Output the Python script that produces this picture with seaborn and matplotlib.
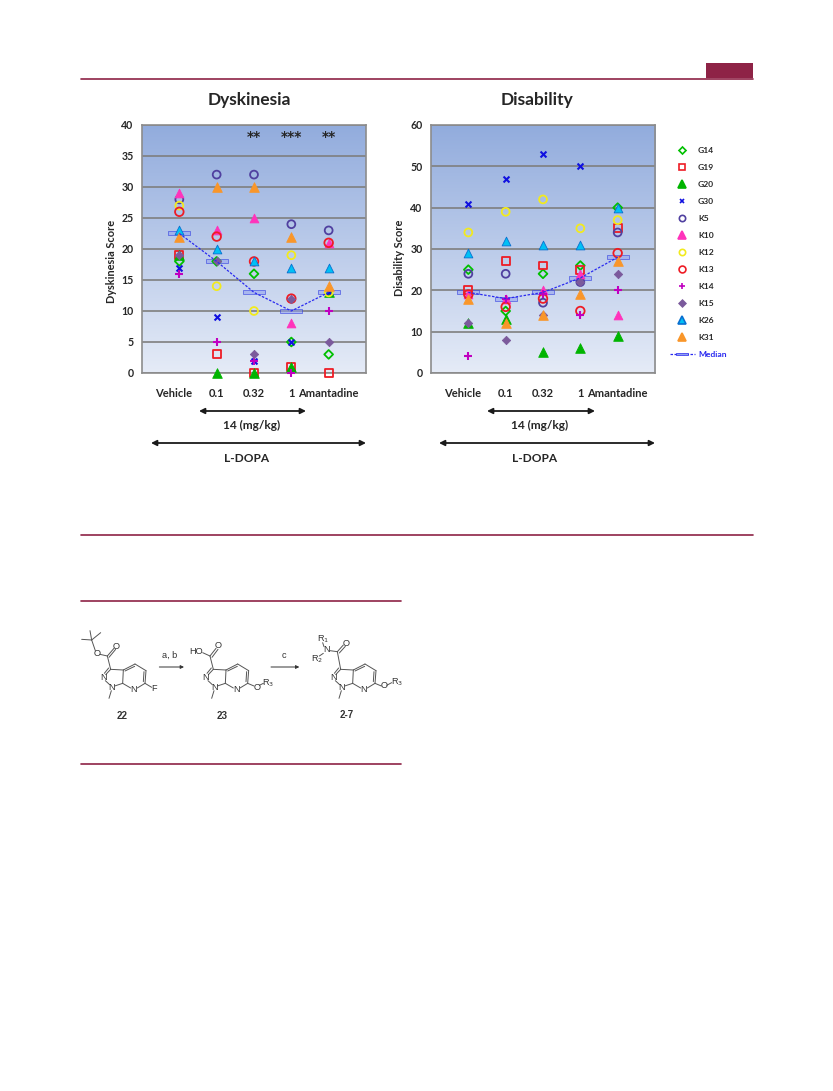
import numpy as np
import pandas as pd
import matplotlib
matplotlib.use('Agg')
import matplotlib.pyplot as plt
from matplotlib.colors import LinearSegmentedColormap
from matplotlib.lines import Line2D
from matplotlib.path import Path
from matplotlib.transforms import ScaledTranslation
import seaborn as sns

# Doses and subjects
doses = ['Vehicle', '0.1', '0.32', '1', 'Amantadine']
subjects = ['G14', 'G19', 'G20', 'G30', 'K5', 'K10', 'K12', 'K13', 'K14', 'K15', 'K26', 'K31']

# Dyskinesia scores, one list per subject (Vehicle .. Amantadine)
dys_g14 = [18, 18, 16, 5, 3]
dys_g19 = [19, 3, 0, 1, 0]
dys_g20 = [19, 0, 0, 1, 13]
dys_g30 = [17, 9, 2, 5, 13]
dys_k5 = [28, 32, 32, 24, 23]
dys_k10 = [29, 23, 25, 8, 21]
dys_k12 = [27, 14, 10, 19, 13]
dys_k13 = [26, 22, 18, 12, 21]
dys_k14 = [16, 5, 2, 0, 10]
dys_k15 = [19, 18, 3, 12, 5]
dys_k26 = [23, 20, 18, 17, 17]
dys_k31 = [22, 30, 30, 22, 14]
dys_median = [22.5, 18, 13, 10, 13]

# Disability scores
dis_g14 = [25, 15, 24, 26, 40]
dis_g19 = [20, 27, 26, 25, 35]
dis_g20 = [12, 13, 5, 6, 9]
dis_g30 = [41, 47, 53, 50, None]
dis_k5 = [24, 24, 17, 22, 34]
dis_k10 = [19, 18, 20, 24, 14]
dis_k12 = [34, 39, 42, 35, 37]
dis_k13 = [19, 16, 18, 15, 29]
dis_k14 = [4, 18, 19, 14, 20]
dis_k15 = [12, 8, 14, 22, 24]
dis_k26 = [29, 32, 31, 31, 40]
dis_k31 = [18, 12, 14, 19, 27]
dis_median = [19.5, 18, 19.5, 23, 28]

dys_scores = [dys_g14, dys_g19, dys_g20, dys_g30, dys_k5, dys_k10,
              dys_k12, dys_k13, dys_k14, dys_k15, dys_k26, dys_k31]
dis_scores = [dis_g14, dis_g19, dis_g20, dis_g30, dis_k5, dis_k10,
              dis_k12, dis_k13, dis_k14, dis_k15, dis_k26, dis_k31]

# marker, colour, edge colour, filled, size
styles = {
    'G14': ('D', '#00c000', '#00c000', False, 20),
    'G19': ('s', '#ee1c25', '#ee1c25', False, 32),
    'G20': ('^', '#00b400', '#00b400', True, 48),
    'G30': ('x', '#1010e0', '#1010e0', None, 18),
    'K5': ('o', '#5040a0', '#5040a0', False, 32),
    'K10': ('^', '#ff33bb', '#ff33bb', True, 40),
    'K12': ('o', '#f2ea1e', '#f2ea1e', False, 32),
    'K13': ('o', '#ee1c25', '#ee1c25', False, 38),
    'K14': ('+', '#c000c0', '#c000c0', None, 28),
    'K15': ('D', '#7b5a9c', '#7b5a9c', True, 18),
    'K26': ('^', '#00c0f5', '#0a6fd0', True, 40),
    'K31': ('^', '#f9962a', '#f9962a', True, 48),
}

W, H = 833, 1091
DARK = '#262626'
MAROON = '#8e2346'
MEDIAN_BLUE = '#2a2af0'

sns.set_theme(style='white')
plt.rcParams['font.family'] = ['Lato', 'DejaVu Sans']

fig = plt.figure(figsize=(W / 100, H / 100), dpi=100, facecolor='white')

# overlay in page pixels for rules, arrows and the scheme
page = fig.add_axes([0, 0, 1, 1], zorder=5)
page.set_xlim(0, W)
page.set_ylim(H, 0)
page.axis('off')
page.patch.set_alpha(0)


def axes_at(left, right, top, bottom):
    return fig.add_axes([left / W, 1 - bottom / H, (right - left) / W, (bottom - top) / H])


bg_cmap = LinearSegmentedColormap.from_list('bg', ['#92acdd', '#e5ebf7'])
median_marker = Path([(-3.5, -0.6), (3.5, -0.6), (3.5, 0.6), (-3.5, 0.6), (-3.5, -0.6)], closed=True)


def draw_panel(ax, scores, median, ymax, step, ylabel, label_x, label_y):
    ax.imshow(np.linspace(0, 1, 256).reshape(-1, 1), cmap=bg_cmap, aspect='auto',
              extent=(0, 1, 0, 1), transform=ax.transAxes, zorder=0)
    ax.set_facecolor('#c0cfea')

    for name, values in zip(subjects, scores):
        marker, color, edge, filled, size = styles[name]
        df = pd.DataFrame({'x': [1, 2, 3, 4, 5], 'y': values}).dropna()
        if filled is None:
            sns.scatterplot(data=df, x='x', y='y', ax=ax, marker=marker, s=size, color=color,
                            linewidth=1.5, zorder=3, legend=False, clip_on=False)
        elif filled:
            sns.scatterplot(data=df, x='x', y='y', ax=ax, marker=marker, s=size, color=color,
                            edgecolor=edge, linewidth=0.6, zorder=3, legend=False, clip_on=False)
        else:
            sns.scatterplot(data=df, x='x', y='y', ax=ax, marker=marker, s=size, facecolor='none',
                            edgecolor=edge, linewidth=1.3, zorder=3, legend=False, clip_on=False)

    med = pd.DataFrame({'x': [1, 2, 3, 4, 5], 'y': median})
    sns.lineplot(data=med, x='x', y='y', ax=ax, color=MEDIAN_BLUE, linewidth=0.9,
                 linestyle=(0, (2, 1.2)), zorder=4, legend=False)
    sns.scatterplot(data=med, x='x', y='y', ax=ax, marker=median_marker, s=260, facecolor='#8f9ff0',
                    alpha=0.55, edgecolor='#2a35e0', linewidth=0.7, zorder=2, legend=False)

    ax.set_xlim(0, 6)
    ax.set_ylim(0, ymax)
    ax.set_yticks(np.arange(0, ymax + 1, step))
    ax.set_xticks([1, 2, 3, 4, 5], doses)
    ax.grid(axis='y', color='#7f7f7f', linewidth=1.2)
    ax.set_axisbelow(True)
    ax.tick_params(axis='x', length=0, pad=11, labelsize=8, labelcolor=DARK)
    ax.tick_params(axis='y', length=0, pad=6, labelsize=7.6, labelcolor=DARK)
    for lab in ax.get_xticklabels() + ax.get_yticklabels():
        lab.set_fontweight('bold')
    # the Vehicle label sits left of its points in the original
    vehicle = ax.get_xticklabels()[0]
    vehicle.set_transform(vehicle.get_transform() + ScaledTranslation(-6 / 100, 0, fig.dpi_scale_trans))
    ax.set_xlabel('')
    ax.set_ylabel(ylabel, fontsize=7.9, fontweight='bold', color=DARK)
    ax.yaxis.set_label_coords(label_x, label_y)
    for side, spine in ax.spines.items():
        spine.set_visible(True)
        spine.set_color('#8c8c8c')
        spine.set_linewidth(1.2)


ax_dys = axes_at(142, 366, 125, 373)
ax_dis = axes_at(431, 655, 125, 373)
draw_panel(ax_dys, dys_scores, dys_median, 40, 5, 'Dyskinesia Score', -0.11, 0.45)
draw_panel(ax_dis, dis_scores, dis_median, 60, 10, 'Disability Score', -0.117, 0.465)

# significance stars
for x, stars in zip([3, 4, 5], ['**', '***', '**']):
    ax_dys.text(x, 38.1, stars, ha='center', va='center', fontsize=10, fontweight='bold',
                color=DARK, family=['DejaVu Sans'], zorder=6)

# titles
page.text(249, 100, 'Dyskinesia', ha='center', va='center', fontsize=12.5, fontweight='bold', color=DARK)
page.text(537, 100, 'Disability', ha='center', va='center', fontsize=12.5, fontweight='bold', color=DARK)


def double_arrow(x0, x1, y):
    page.annotate('', xy=(x0, y), xytext=(x1, y),
                  arrowprops=dict(arrowstyle='<|-|>', color='#1a1a1a', lw=1.3, mutation_scale=8,
                                  shrinkA=0, shrinkB=0))


for a0, a1, b0, b1, tx_mg, tx_ld in [(199, 306, 151, 366, 252, 247), (487, 595, 439, 655, 540, 535)]:
    double_arrow(a0, a1, 411)
    page.text(tx_mg, 425, '14 (mg/kg)', ha='center', va='center', fontsize=8.6, fontweight='bold', color=DARK)
    double_arrow(b0, b1, 443)
    page.text(tx_ld, 458, 'L-DOPA', ha='center', va='center', fontsize=8.6, fontweight='bold', color=DARK)

# legend
handles = []
for name in subjects:
    marker, color, edge, filled, size = styles[name]
    face = color if filled in (True, None) else 'none'
    handles.append(Line2D([], [], linestyle='none', marker=marker, markersize=np.sqrt(size) * 0.8,
                          markerfacecolor=face, markeredgecolor=edge, markeredgewidth=1.2, label=name))
handles.append(Line2D([], [], color=MEDIAN_BLUE, linewidth=0.9, linestyle=(0, (2, 1.2)), marker=median_marker,
                      markersize=9, markerfacecolor='#8f9ff0', markeredgewidth=0.5, label='Median'))
leg = page.legend(handles=handles, loc='upper left', bbox_to_anchor=(670 / W, 1 - 147 / H),
                  bbox_transform=fig.transFigure, frameon=False, fontsize=6.1, labelspacing=1.18,
                  handlelength=2.9, handletextpad=0.4, borderpad=0, borderaxespad=0)
for txt in leg.get_texts():
    txt.set_fontweight('bold')
    txt.set_color(DARK)
leg.get_texts()[-1].set_color(MEDIAN_BLUE)

# page furniture
page.plot([81, 753], [78.5, 78.5], color=MAROON, lw=1.2)
page.fill_between([706, 753], 63, 78, color=MAROON, lw=0)
page.plot([81, 753], [534.5, 534.5], color=MAROON, lw=1.2)
page.plot([81, 401], [600.5, 600.5], color=MAROON, lw=1.2)
page.plot([81, 401], [763.5, 763.5], color=MAROON, lw=1.2)

# synthetic scheme, coordinates taken in a 3x crop starting at (70, 590)
LINE = '#555555'


def sx(x):
    return 70 + x / 3


def sy(y):
    return 590 + y / 3


def bonds(pairs, dx=0):
    for (x0, y0), (x1, y1) in pairs:
        page.plot([sx(x0 + dx), sx(x1 + dx)], [sy(y0), sy(y1)], color=LINE, lw=0.7, solid_capstyle='round')


def atom(x, y, label, size=6.6, color='#333333', weight='normal'):
    page.text(sx(x), sy(y), label, ha='center', va='center', fontsize=size, color=color,
              fontweight=weight, family=['Liberation Sans'])


core = [((122, 238), (107, 254)), ((116, 234), (103, 250)), ((106, 272), (119, 284)), ((134, 288), (158, 280)),
        ((158, 280), (160, 240)), ((160, 240), (122, 238)), ((160, 240), (195, 222)), ((165, 243), (194, 229)),
        ((195, 222), (228, 242)), ((228, 242), (225, 280)), ((222, 245), (220, 275)), ((225, 280), (202, 294)),
        ((182, 294), (158, 280)), ((124, 302), (117, 325))]
for dx in (0, 308, 690):
    bonds(core, dx)
    atom(100 + dx, 262, 'N')
    atom(125 + dx, 292, 'N')
    atom(192 + dx, 298, 'N')

# 22
bonds([((65, 150), (35, 148)), ((65, 150), (60, 122)), ((65, 150), (92, 128)), ((65, 150), (76, 182)),
       ((90, 193), (112, 198)), ((112, 198), (122, 238)), ((112, 198), (132, 175)), ((117, 202), (137, 178))])
atom(80, 192, 'O')
atom(138, 170, 'O')
bonds([((225, 280), (245, 292))])
atom(252, 296, 'F')

# 23
bonds([((420, 198), (430, 238)), ((420, 198), (438, 175)), ((426, 202), (444, 178)), ((420, 198), (398, 188)),
       ((533, 280), (552, 288)), ((568, 286), (580, 280))])
atom(443, 168, 'O')
atom(377, 185, 'HO')
atom(560, 291, 'O')
atom(595, 280, 'R$_3$')

# 2-7
bonds([((802, 185), (812, 238)), ((802, 185), (820, 165)), ((808, 189), (826, 169)), ((802, 185), (780, 182)),
       ((762, 170), (758, 158)), ((760, 190), (748, 198)), ((915, 280), (934, 288)), ((950, 286), (965, 278))])
atom(828, 160, 'O')
atom(769, 180, 'N')
atom(758, 148, 'R$_1$')
atom(742, 208, 'R$_2$')
atom(942, 288, 'O')
atom(980, 276, 'R$_3$')

# arrows
for x0, x1, y, label in [(268, 342, 231, 'a, b'), (603, 688, 231, 'c')]:
    page.annotate('', xy=(sx(x1), sy(y)), xytext=(sx(x0), sy(y)),
                  arrowprops=dict(arrowstyle='-|>', color='#333333', lw=0.7, mutation_scale=5, shrinkA=0, shrinkB=0))
    atom((x0 + x1) / 2 - 5, 197, label)

atom(157, 378, '22', size=7, weight='bold')
atom(457, 378, '23', size=7, weight='bold')
atom(830, 376, '2-7', size=7, weight='bold')

fig.savefig('out.png', dpi=100)
